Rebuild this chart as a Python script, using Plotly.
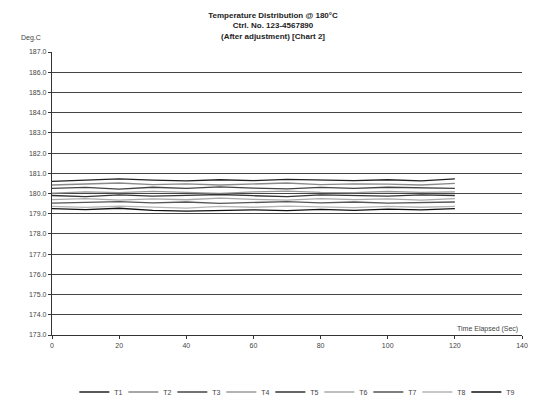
import plotly.graph_objects as go

# Elapsed time (sec) and probe readings (deg C)
time_sec = [0, 10, 20, 30, 40, 50, 60, 70, 80, 90, 100, 110, 120]
series_names = ["T1", "T2", "T3", "T4", "T5", "T6", "T7", "T8", "T9"]
t1 = [180.60, 180.65, 180.72, 180.66, 180.62, 180.68, 180.64, 180.70, 180.66, 180.64, 180.68, 180.62, 180.72]
t2 = [180.42, 180.46, 180.52, 180.44, 180.48, 180.42, 180.46, 180.52, 180.44, 180.48, 180.46, 180.42, 180.50]
t3 = [180.25, 180.30, 180.22, 180.31, 180.25, 180.33, 180.27, 180.23, 180.30, 180.25, 180.31, 180.27, 180.25]
t4 = [180.02, 180.08, 180.04, 180.11, 180.06, 180.01, 180.08, 180.12, 180.06, 180.04, 180.10, 180.06, 180.08]
t5 = [179.90, 179.85, 179.93, 179.87, 179.91, 179.95, 179.89, 179.85, 179.93, 179.90, 179.87, 179.93, 179.90]
t6 = [179.70, 179.75, 179.67, 179.73, 179.69, 179.77, 179.71, 179.67, 179.75, 179.70, 179.73, 179.67, 179.75]
t7 = [179.52, 179.56, 179.60, 179.54, 179.58, 179.51, 179.56, 179.60, 179.54, 179.58, 179.52, 179.56, 179.58]
t8 = [179.36, 179.31, 179.38, 179.34, 179.28, 179.36, 179.32, 179.38, 179.34, 179.30, 179.36, 179.32, 179.36]
t9 = [179.25, 179.20, 179.27, 179.17, 179.13, 179.15, 179.19, 179.15, 179.21, 179.17, 179.23, 179.19, 179.25]
all_series = [t1, t2, t3, t4, t5, t6, t7, t8, t9]

line_colors = ["#222222", "#8a8a8a", "#444444", "#9a9a9a", "#333333",
               "#aaaaaa", "#555555", "#b5b5b5", "#111111"]

x_ticks = [0, 20, 40, 60, 80, 100, 120, 140]
y_ticks = [173.0 + i for i in range(15)]

fig = go.Figure()
for name, vals, col in zip(series_names, all_series, line_colors):
    fig.add_trace(go.Scatter(x=time_sec, y=vals, mode="lines", name=name,
                             line=dict(color=col, width=1.3)))

fig.update_layout(
    width=546, height=400,
    paper_bgcolor="white", plot_bgcolor="white",
    margin=dict(l=52, r=24, t=52, b=65, autoexpand=False),
    font=dict(family="Arial, Liberation Sans, sans-serif", size=7, color="#444444"),
    title=dict(
        text="<b>Temperature Distribution @ 180°C</b><br><b>Ctrl. No. 123-4567890</b><br><b>(After adjustment) [Chart 2]</b>",
        x=0.5, xanchor="center", y=0.955, yanchor="top",
        font=dict(size=8, color="#222222"),
    ),
    showlegend=True,
    legend=dict(orientation="h", xref="container", x=0.54, xanchor="center",
                yref="container", y=0.02, yanchor="middle",
                font=dict(size=7, color="#444444"),
                entrywidth=4, entrywidthmode="pixels",
                tracegroupgap=0, itemwidth=30),
)

fig.update_xaxes(range=[0, 140], tickvals=x_ticks, showgrid=False,
                 showline=True, linecolor="#333333", linewidth=1.2,
                 ticks="outside", ticklen=3, tickcolor="#333333",
                 zeroline=False, mirror=False)
fig.update_yaxes(range=[173, 187], tickvals=y_ticks, tickformat=".1f",
                 showgrid=True, gridcolor="#444444", gridwidth=1,
                 showline=True, linecolor="#333333", linewidth=1.2,
                 ticks="outside", ticklen=3, tickcolor="#333333",
                 zeroline=False)

fig.add_annotation(text="Deg.C", xref="paper", yref="paper", x=-0.02, y=1.0,
                   xanchor="right", yanchor="bottom", yshift=8, showarrow=False,
                   font=dict(size=7, color="#444444"))
fig.add_annotation(text="Time Elapsed (Sec)", xref="paper", yref="paper", x=0.995, y=0.0,
                   xanchor="right", yanchor="bottom", showarrow=False,
                   font=dict(size=7, color="#444444"), bgcolor="white")

fig.write_html("out.html")
